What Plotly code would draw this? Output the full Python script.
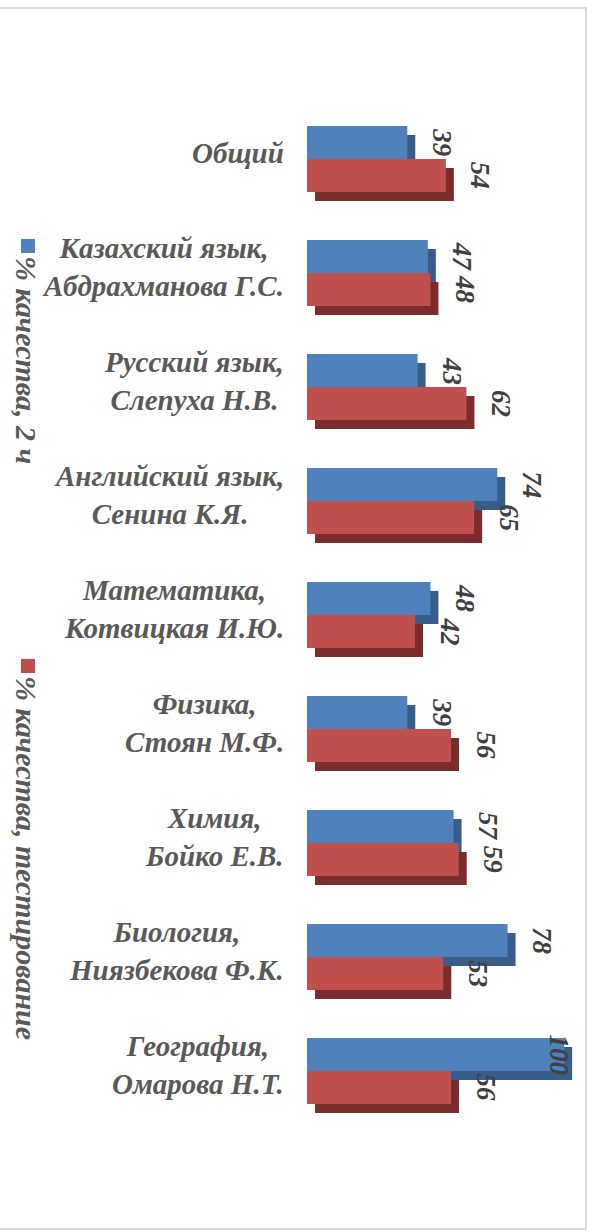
import plotly.graph_objects as go

# ---- data ----
categories = [
    "Общий",
    "Казахский язык,<br>Абдрахманова Г.С.",
    "Русский язык,<br>Слепуха Н.В.",
    "Английский язык,<br>Сенина К.Я.",
    "Математика,<br>Котвицкая И.Ю.",
    "Физика,<br>Стоян М.Ф.",
    "Химия,<br>Бойко Е.В.",
    "Биология,<br>Ниязбекова Ф.К.",
    "География,<br>Омарова Н.Т.",
]
series_names = ["% качества, 2 ч", "% качества, тестирование"]
quality_2h = [39, 47, 43, 74, 48, 39, 57, 78, 100]
quality_test = [54, 48, 62, 65, 42, 56, 59, 53, 56]

# ---- layout constants (pixels) ----
W, H = 597, 1232
L, R, T, B = 307, 20, 102, 104
XMAX = 105.0
PW = W - L - R
PH = H - T - B
PX_PER_UNIT = PW / XMAX
PX_PER_CAT = PH / len(categories)

def px_x(px):
    return (px - L) / PW

def px_y(py):
    return (H - B - py) / PH

blue, red = "#4f81bd", "#c0504d"
blue_dark, red_dark = "#385d8a", "#7b2c2b"
FONT = "Liberation Serif"

bar_w = 33 / PX_PER_CAT
half = bar_w / 2
depth_x = 8 / PX_PER_UNIT
depth_y = 9 / PX_PER_CAT
gap_x = 10 / PX_PER_UNIT

idx = list(range(len(categories)))
y_blue = [i - half for i in idx]
y_red = [i + half for i in idx]

fig = go.Figure()
# 3D-ish depth (shadows)
fig.add_trace(go.Bar(x=quality_2h, y=[y + depth_y for y in y_blue], base=depth_x,
                     orientation="h", width=bar_w, marker=dict(color=blue_dark, line=dict(width=0)),
                     showlegend=False, hoverinfo="skip"))
fig.add_trace(go.Bar(x=quality_test, y=[y + depth_y for y in y_red], base=depth_x,
                     orientation="h", width=bar_w, marker=dict(color=red_dark, line=dict(width=0)),
                     showlegend=False, hoverinfo="skip"))
# front faces
fig.add_trace(go.Bar(x=quality_2h, y=y_blue, orientation="h", width=bar_w, name=series_names[0],
                     marker=dict(color=blue, line=dict(width=0)), showlegend=False))
fig.add_trace(go.Bar(x=quality_test, y=y_red, orientation="h", width=bar_w, name=series_names[1],
                     marker=dict(color=red, line=dict(width=0)), showlegend=False))

annotations = []
# data labels
for vals, ys in ((quality_2h, y_blue), (quality_test, y_red)):
    for v, y in zip(vals, ys):
        txt = str(v)
        w_units = len(txt) * 14 / PX_PER_UNIT
        xl = v + depth_x + gap_x
        if xl + w_units > XMAX:
            ann_x, anchor = XMAX - 1 / PX_PER_UNIT, "right"
        else:
            ann_x, anchor = xl, "left"
        annotations.append(dict(x=ann_x, y=y, xref="x", yref="y", text=f"<b><i>{txt}</i></b>",
                                showarrow=False, textangle=90, xanchor=anchor, yanchor="middle",
                                font=dict(family=FONT, size=27, color="#404040")))
# category labels
for i, c in enumerate(categories):
    annotations.append(dict(x=px_x(286), y=i, xref="paper", yref="y", text=f"<b><i>{c}</i></b>",
                            showarrow=False, xanchor="right", yanchor="middle", align="center",
                            yshift=6, font=dict(family=FONT, size=29, color="#595959")))
# legend (rotated)
legend_pos = [(254, blue), (674, red)]
shapes = []
for (ytop, col), name in zip(legend_pos, series_names):
    annotations.append(dict(x=px_x(27), y=px_y(ytop), xref="paper", yref="paper",
                            text=f"<b><i>{name}</i></b>", showarrow=False, textangle=90,
                            xanchor="center", yanchor="top",
                            font=dict(family=FONT, size=30, color="#595959")))
    shapes.append(dict(type="rect", xref="paper", yref="paper",
                       x0=px_x(21), x1=px_x(35), y0=px_y(ytop - 15), y1=px_y(ytop - 1),
                       fillcolor=col, line=dict(width=0)))
# chart border
shapes.append(dict(type="rect", xref="paper", yref="paper", x0=px_x(-5), x1=px_x(586),
                   y0=px_y(1229), y1=px_y(8), line=dict(color="#d9d9d9", width=2),
                   fillcolor="rgba(0,0,0,0)", layer="below"))

fig.update_layout(
    width=W, height=H, margin=dict(l=L, r=R, t=T, b=B),
    paper_bgcolor="white", plot_bgcolor="white",
    barmode="overlay", showlegend=False,
    xaxis=dict(range=[0, XMAX], visible=False, fixedrange=True),
    yaxis=dict(range=[len(categories) - 0.5, -0.5], visible=False, fixedrange=True),
    annotations=annotations, shapes=shapes,
)
fig.write_html("out.html", config={"displayModeBar": False},
               post_script="document.body.style.margin='0';document.body.style.overflow='hidden';")
